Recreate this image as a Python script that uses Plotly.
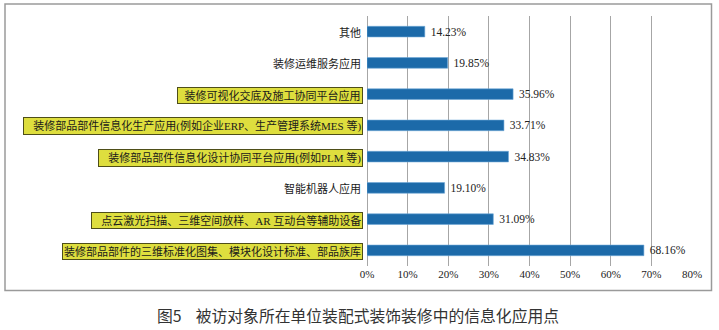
import plotly.graph_objects as go

# Categories listed top to bottom as they appear on the chart
categories = [
    "其他",
    "装修运维服务应用",
    "装修可视化交底及施工协同平台应用",
    "装修部品部件信息化生产应用(例如企业ERP、生产管理系统MES 等)",
    "装修部品部件信息化设计协同平台应用(例如PLM 等)",
    "智能机器人应用",
    "点云激光扫描、三维空间放样、AR 互动台等辅助设备",
    "装修部品部件的三维标准化图集、模块化设计标准、部品族库",
]
shares = [14.23, 19.85, 35.96, 33.71, 34.83, 19.10, 31.09, 68.16]
highlighted = [False, False, True, True, True, False, True, True]

x_ticks = [0, 10, 20, 30, 40, 50, 60, 70, 80]
x_tick_labels = [f"{t}%" for t in x_ticks]

caption = "图5\u00a0\u00a0\u00a0\u00a0被访对象所在单位装配式装饰装修中的信息化应用点"

W, H = 719, 330
L, R, T, B = 367, 27, 16, 64
plot_w = W - L - R
plot_h = H - T - B

BAR_BLUE = "#1c6aa9"
YELLOW = "#dede3e"
OLIVE = "#4e4e18"
GRID = "#a6a6a6"
LABEL_FONT = "Liberation Serif, Noto Sans CJK SC"

fig = go.Figure(
    go.Bar(
        x=shares,
        y=categories,
        orientation="h",
        width=0.34,
        marker=dict(color=BAR_BLUE, line=dict(color="#6fa8d6", width=0.6)),
        text=[f"\u00a0{v:.2f}%" for v in shares],
        textposition="outside",
        constraintext="none",
        textfont=dict(family=LABEL_FONT, size=11.5, color="#222222"),
        cliponaxis=False,
        hoverinfo="skip",
    )
)

# Category labels, boxed in yellow for the highlighted items
left_pad = [0, 0, 2, 3, 3, 0, 3, 0]
for cat, hi, pad in zip(categories, highlighted, left_pad):
    fig.add_annotation(
        x=0, y=cat, xref="x", yref="y",
        xanchor="right", yanchor="middle",
        xshift=-4, yshift=-1,
        text="\u00a0" * pad + cat,
        showarrow=False,
        font=dict(family=LABEL_FONT, size=11, color="#1a1a1a"),
        bgcolor=YELLOW if hi else "rgba(0,0,0,0)",
        bordercolor=OLIVE if hi else "rgba(0,0,0,0)",
        borderwidth=1,
        borderpad=1,
    )

# Caption under the framed chart
fig.add_annotation(
    x=(358 - L) / plot_w, y=(H - B - 315) / plot_h,
    xref="paper", yref="paper",
    xanchor="center", yanchor="middle",
    text=caption, showarrow=False,
    font=dict(family="Noto Sans CJK SC", size=15.8, color="#333333"),
)

# Outer frame around the chart area
fig.add_shape(
    type="rect", xref="paper", yref="paper",
    x0=(5 - L) / plot_w, x1=(711.5 - L) / plot_w,
    y0=(H - B - 290.5) / plot_h, y1=(H - B - 4) / plot_h,
    line=dict(color="#9a9a9a", width=1.5),
    fillcolor="rgba(0,0,0,0)",
    layer="below",
)

fig.update_layout(
    width=W, height=H,
    margin=dict(l=L, r=R, t=T, b=B),
    paper_bgcolor="white",
    plot_bgcolor="white",
    showlegend=False,
    xaxis=dict(
        range=[0, 80],
        tickvals=x_ticks,
        ticktext=x_tick_labels,
        showgrid=True, gridcolor=GRID, gridwidth=1,
        zeroline=True, zerolinecolor=GRID, zerolinewidth=1,
        showline=False,
        ticks="",
        tickfont=dict(family=LABEL_FONT, size=11, color="#222222"),
        fixedrange=True,
    ),
    yaxis=dict(
        categoryorder="array",
        categoryarray=categories,
        autorange="reversed",
        showticklabels=False,
        showgrid=False,
        zeroline=False,
        ticks="",
        fixedrange=True,
    ),
)

fig.write_html("out.html", config={"displayModeBar": False})
